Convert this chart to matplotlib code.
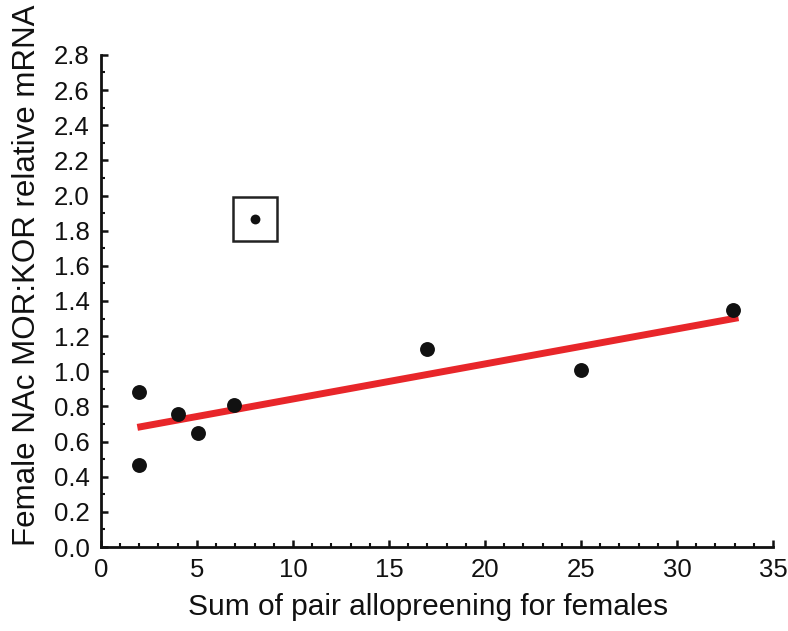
import matplotlib
matplotlib.use('Agg')
import matplotlib.pyplot as plt
from matplotlib.ticker import MultipleLocator

plt.rcParams['font.family'] = ['Liberation Sans', 'DejaVu Sans']

# データ
allopreening = [2.0, 2.0, 4.0, 5.05, 6.95, 17.0, 25.0, 32.9]
mor_kor = [0.88, 0.465, 0.757, 0.65, 0.81, 1.125, 1.007, 1.349]

# 外れ値（四角で囲まれた点）
outlier_x = [8.0]
outlier_y = [1.867]

# 回帰直線の両端
fit_x = [1.9, 33.2]
fit_y = [0.681, 1.305]

fig = plt.figure(figsize=(7.88, 6.31), dpi=100)
ax = fig.add_axes([0.128, 0.133, 0.853, 0.78])

ax.plot(fit_x, fit_y, color='#e8262a', linewidth=5, solid_capstyle='butt', zorder=2)
ax.scatter(allopreening, mor_kor, s=115, color='#111111', zorder=3, linewidths=0)
ax.scatter(outlier_x, outlier_y, s=50, color='#111111', zorder=3, linewidths=0)
ax.plot(outlier_x, outlier_y, marker='s', markersize=32, markerfacecolor='none',
        markeredgecolor='#222222', markeredgewidth=1.8, linestyle='none', zorder=3)

ax.set_xlim(0, 35)
ax.set_ylim(0, 2.8)
ax.xaxis.set_major_locator(MultipleLocator(5))
ax.xaxis.set_minor_locator(MultipleLocator(1))
ax.yaxis.set_major_locator(MultipleLocator(0.2))
ax.yaxis.set_minor_locator(MultipleLocator(0.1))
ax.yaxis.set_major_formatter(matplotlib.ticker.FormatStrFormatter('%.1f'))

for side in ['top', 'right']:
    ax.spines[side].set_visible(False)
for side in ['left', 'bottom']:
    ax.spines[side].set_linewidth(2.0)
    ax.spines[side].set_color('#111111')

ax.tick_params(which='major', direction='in', length=5, width=1.8, labelsize=18.5,
               colors='#111111', pad=8)
ax.tick_params(which='minor', direction='in', length=3, width=1.5, colors='#111111')

ax.set_xlabel('Sum of pair allopreening for females', fontsize=21.5, color='#111111')
ax.set_ylabel('Female NAc MOR:KOR relative mRNA', fontsize=22.5, color='#111111')
ax.xaxis.set_label_coords(0.487, -0.093)
ax.yaxis.set_label_coords(-0.088, 0.553)

fig.savefig('out.png', dpi=100)
